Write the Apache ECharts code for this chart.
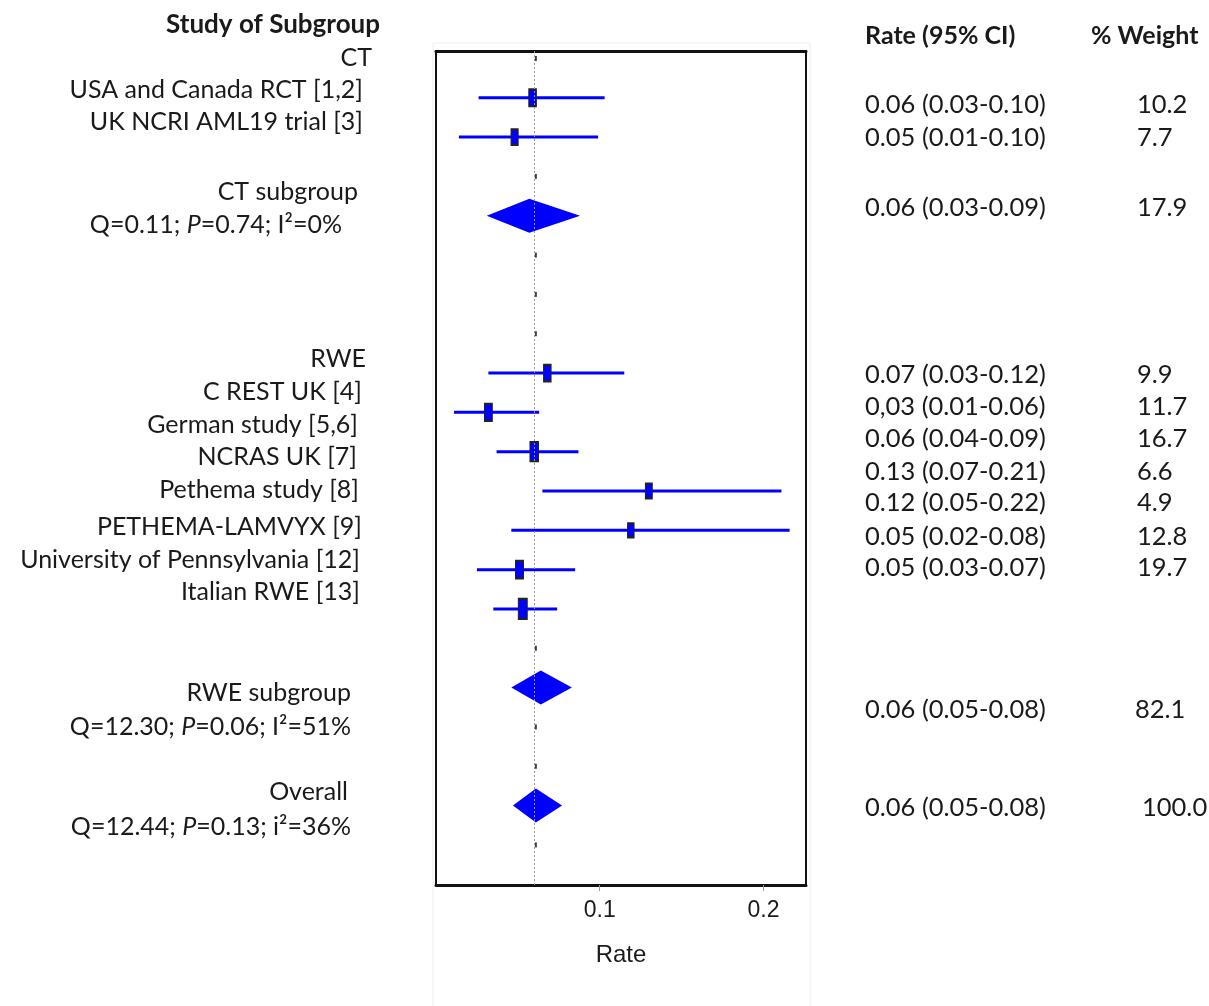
<!DOCTYPE html>
<html>
<head>
<meta charset="utf-8">
<script src="https://cdn.jsdelivr.net/npm/echarts@6/dist/echarts.min.js"></script>
<style>
  html, body { margin: 0; padding: 0; background: #fff; }
  #chart { width: 1209px; height: 1006px; }
</style>
</head>
<body>
<div id="chart"></div>
<script>
// study rows (row index counts down from the top of the plot box)
const studyRows = [1, 2, 8, 9, 10, 11, 12, 13, 14]
const studyRate = [0.059, 0.048, 0.068, 0.032, 0.060, 0.130, 0.119, 0.051, 0.053]
const studyLow = [0.026, 0.014, 0.032, 0.011, 0.037, 0.065, 0.046, 0.025, 0.035]
const studyHigh = [0.103, 0.099, 0.115, 0.063, 0.087, 0.211, 0.216, 0.085, 0.074]
const studyWeight = [10.2, 7.7, 9.9, 11.7, 16.7, 6.6, 4.9, 12.8, 19.7]

// pooled estimates: CT subgroup, RWE subgroup, overall
const pooledRows = [4, 16, 19]
const pooledRate = [0.057, 0.064, 0.061]
const pooledLow = [0.031, 0.046, 0.047]
const pooledHigh = [0.088, 0.083, 0.077]

const refRate = 0.061
const emptyRows = [0, 3, 5, 6, 7, 15, 17, 18, 20]

const xTicks = [0.1, 0.2]

const leftLabels = [
  'CT', 'USA and Canada RCT [1,2]', 'UK NCRI AML19 trial [3]',
  'CT subgroup', 'Q=0.11; {i|P}=0.74; I²=0%',
  'RWE', 'C REST UK [4]', 'German study [5,6]', 'NCRAS UK [7]',
  'Pethema study [8]', 'PETHEMA-LAMVYX [9]', 'University of Pennsylvania [12]',
  'Italian RWE [13]',
  'RWE subgroup', 'Q=12.30; {i|P}=0.06; I²=51%',
  'Overall', 'Q=12.44; {i|P}=0.13; i²=36%'
]
const rateLabels = [
  '0.06 (0.03-0.10)', '0.05 (0.01-0.10)', '0.06 (0.03-0.09)',
  '0.07 (0.03-0.12)', '0,03 (0.01-0.06)', '0.06 (0.04-0.09)',
  '0.13 (0.07-0.21)', '0.12 (0.05-0.22)', '0.05 (0.02-0.08)',
  '0.05 (0.03-0.07)', '0.06 (0.05-0.08)', '0.06 (0.05-0.08)'
]
const weightLabels = ['10.2', '7.7', '17.9', '9.9', '11.7', '16.7', '6.6', '4.9', '12.8', '19.7', '82.1', '100.0']

// text table layout (pixels)
const leftLabelPos = [
  [372, 58], [363, 90], [363, 122], [358, 192], [342, 225],
  [366, 359], [362, 392], [358, 425], [357, 457], [359, 490],
  [362, 527], [360, 560], [360, 592], [351, 693], [351, 727],
  [348, 792], [351, 827]
]
const tableY = [105, 138, 208, 375, 407, 439, 472, 503, 537, 568, 710, 808]
const weightX = [1137, 1137, 1137, 1137, 1137, 1137, 1137, 1137, 1137, 1137, 1135, 1142]

const FONT = 'Lato, "Open Sans", sans-serif'
const NARROW = '"Liberation Sans Narrow", "Liberation Sans", Arial, sans-serif'
const BLUE = '#0000ff'
const INK = '#1a1a1a'

const chart = echarts.init(document.getElementById('chart'), null, { renderer: 'canvas' })

const textItems = []
textItems.push({
  type: 'text', x: 380, y: 25,
  style: { text: 'Study of Subgroup', font: 'bold 26px ' + FONT, fill: INK, align: 'right', verticalAlign: 'middle' }
})
textItems.push({
  type: 'text', x: 865, y: 36,
  style: { text: 'Rate (95% CI)', font: 'bold 25px ' + FONT, fill: INK, align: 'left', verticalAlign: 'middle' }
})
textItems.push({
  type: 'text', x: 1091, y: 36,
  style: { text: '% Weight', font: 'bold 25px ' + FONT, fill: INK, align: 'left', verticalAlign: 'middle' }
})
leftLabels.forEach((t, i) => {
  textItems.push({
    type: 'text', x: leftLabelPos[i][0], y: leftLabelPos[i][1],
    style: {
      text: t, font: '25px ' + FONT, fill: INK, align: 'right', verticalAlign: 'middle',
      rich: { i: { fontStyle: 'italic', fontSize: 25, fontFamily: FONT, fill: INK } }
    }
  })
})
rateLabels.forEach((t, i) => {
  textItems.push({
    type: 'text', x: 865, y: tableY[i],
    style: { text: t, font: '25.5px ' + FONT, fill: INK, align: 'left', verticalAlign: 'middle' }
  })
  textItems.push({
    type: 'text', x: weightX[i], y: tableY[i],
    style: { text: weightLabels[i], font: '25.5px ' + FONT, fill: INK, align: 'left', verticalAlign: 'middle' }
  })
})

chart.setOption({
  backgroundColor: '#fff',
  animation: false,
  graphic: [
    {
      type: 'rect', z: -10, silent: true,
      shape: { x: 433, y: 43, width: 377, height: 970 },
      style: { fill: 'none', stroke: '#eeeeee', lineWidth: 1 }
    },
    ...textItems
  ],
  grid: {
    left: 436, right: 403, top: 51, bottom: 121,
    show: true, borderColor: '#111', borderWidth: 2, backgroundColor: 'transparent'
  },
  xAxis: [
    {
      type: 'value', min: 0, max: 0.226, interval: 0.1, position: 'bottom',
      axisLine: { show: true, onZero: false, lineStyle: { color: '#111', width: 3 } },
      axisTick: { show: true, length: 6, customValues: xTicks, lineStyle: { color: '#999' } },
      axisLabel: {
        customValues: xTicks, margin: 14, color: INK,
        fontFamily: NARROW, fontSize: 23, formatter: v => String(v)
      },
      splitLine: { show: false },
      name: 'Rate', nameLocation: 'middle', nameGap: 58,
      nameTextStyle: { fontFamily: NARROW, fontSize: 24, color: INK }
    },
    {
      type: 'value', min: 0, max: 0.226, position: 'top',
      axisLine: { show: true, onZero: false, lineStyle: { color: '#111', width: 3 } },
      axisTick: { show: false }, axisLabel: { show: false }, splitLine: { show: false }
    }
  ],
  yAxis: {
    type: 'value', inverse: true, min: -0.19, max: 21.02, show: false
  },
  series: [
    {
      type: 'custom',
      name: 'ci',
      data: studyRows.map((r, i) => [studyLow[i], studyHigh[i], r]),
      renderItem(params, api) {
        const a = api.coord([api.value(0), api.value(2)])
        const b = api.coord([api.value(1), api.value(2)])
        return {
          type: 'line',
          shape: { x1: a[0], y1: a[1], x2: b[0], y2: b[1] },
          style: { stroke: BLUE, lineWidth: 3 }
        }
      },
      z: 2
    },
    {
      type: 'scatter',
      name: 'study',
      data: studyRows.map((r, i) => ({
        value: [studyRate[i], r],
        symbolSize: [4 + 1.1 * Math.sqrt(studyWeight[i]), 8 + 2.7 * Math.sqrt(studyWeight[i])]
      })),
      symbol: 'rect',
      itemStyle: { color: BLUE, borderColor: '#222', borderWidth: 1.5, opacity: 1 },
      z: 4,
      markLine: {
        silent: true, symbol: 'none', animation: false,
        label: { show: false },
        lineStyle: { color: '#999', type: [2, 2], width: 1 },
        data: [{ xAxis: refRate }]
      }
    },
    {
      type: 'custom',
      name: 'pooled',
      data: pooledRows.map((r, i) => [pooledLow[i], pooledRate[i], pooledHigh[i], r]),
      renderItem(params, api) {
        const row = api.value(3)
        const l = api.coord([api.value(0), row])
        const m = api.coord([api.value(1), row])
        const h = api.coord([api.value(2), row])
        const hh = 17
        return {
          type: 'polygon',
          shape: { points: [[l[0], l[1]], [m[0], m[1] - hh], [h[0], h[1]], [m[0], m[1] + hh]] },
          style: { fill: BLUE }
        }
      },
      z: 3
    },
    {
      type: 'scatter',
      name: 'empty',
      data: emptyRows.map(r => [refRate, r]),
      symbol: 'rect',
      symbolSize: [2, 5],
      itemStyle: { color: '#111' },
      z: 3
    }
  ]
})
</script>
</body>
</html>
